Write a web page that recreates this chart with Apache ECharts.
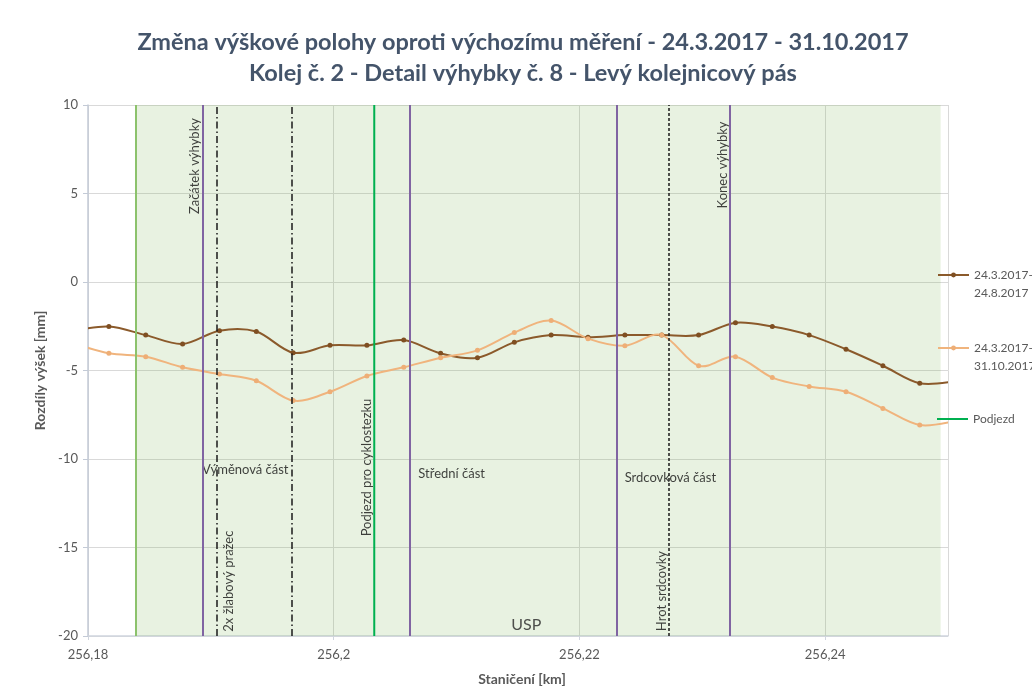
<!DOCTYPE html>
<html>
<head>
<meta charset="utf-8">
<script src="https://cdn.jsdelivr.net/npm/echarts@6/dist/echarts.min.js"></script>
<style>
html,body{margin:0;padding:0;background:#fff;}
#chart{width:1032px;height:700px;}
</style>
</head>
<body>
<div id="chart"></div>
<script>
// ---- data ----
const stations = [256.1787, 256.1817, 256.1847, 256.1877, 256.1907, 256.1937, 256.1967, 256.1997, 256.2027, 256.2057, 256.2087, 256.2117, 256.2147, 256.2177, 256.2207, 256.2237, 256.2267, 256.2297, 256.2327, 256.2357, 256.2387, 256.2417, 256.2447, 256.2477, 256.2507];
const diffAug = [-2.75, -2.52, -3.0, -3.5, -2.75, -2.8, -4.0, -3.58, -3.58, -3.28, -4.03, -4.28, -3.41, -3.0, -3.12, -3.0, -3.0, -3.0, -2.3, -2.52, -3.0, -3.8, -4.73, -5.72, -5.6];
const diffOct = [-3.45, -4.03, -4.22, -4.82, -5.2, -5.58, -6.7, -6.2, -5.31, -4.82, -4.28, -3.86, -2.86, -2.18, -3.2, -3.6, -3.0, -4.73, -4.22, -5.4, -5.9, -6.2, -7.14, -8.08, -7.85];
const seriesNames = ['24.3.2017-24.8.2017', '24.3.2017-31.10.2017', 'Podjezd'];

// key stations [km]
const shadeStart = 256.1839, shadeEnd = 256.2494;
const switchStart = 256.1893, middlePart = 256.2062, frogPart = 256.2230, switchEnd = 256.2322;
const troughSleepers = 256.1905, switchPartEnd = 256.1966;
const frogPoint = 256.2273;
const underpass = 256.2033;

const xTicks = {min: 256.18, max: 256.25, interval: 0.02};
const yTicks = {min: -20, max: 10, interval: 5};

// annotations (text, anchor in data coords, rotation)
const notes = [
  {t: 'Začátek výhybky', x: 256.18873, y: 6.55, r: 90},
  {t: '2x žlabový pražec', x: 256.19143, y: -16.9, r: 90},
  {t: 'Výměnová část', x: 256.19280, y: -10.62, r: 0},
  {t: 'Podjezd pro cyklostezku', x: 256.20269, y: -10.48, r: 90},
  {t: 'Střední část', x: 256.20960, y: -10.85, r: 0},
  {t: 'Srdcovková část', x: 256.22740, y: -11.07, r: 0},
  {t: 'Hrot srdcovky', x: 256.22672, y: -17.46, r: 90},
  {t: 'Konec výhybky', x: 256.23167, y: 6.61, r: 90},
  {t: 'USP', x: 256.21567, y: -19.35, r: 0, big: true}
];

const FONT = 'Lato';
const BROWN = '#8b5a2b', ORANGE = '#f0b47d';
const purple = {color: '#8064a2', width: 2, type: 'solid'};
const dashDot = {color: '#1a1a1a', width: 1.5, type: [7, 3, 1.5, 3]};

// Excel-like smoothed curve (Catmull-Rom bezier) drawn through the chart's own coordinate system
function smoothSeries(name, vals, color) {
  return {
    type: 'custom', name: name + ' curve', silent: true, clip: true, z: 2,
    data: stations.slice(0, -1).map((s, i) => [s, vals[i]]),
    renderItem: (params, api) => {
      const i = params.dataIndex, n = stations.length;
      const P = k => api.coord([stations[Math.max(0, Math.min(n - 1, k))], vals[Math.max(0, Math.min(n - 1, k))]]);
      const p0 = P(i - 1), p1 = P(i), p2 = P(i + 1), p3 = P(i + 2);
      return {
        type: 'bezierCurve',
        shape: {
          x1: p1[0], y1: p1[1], x2: p2[0], y2: p2[1],
          cpx1: p1[0] + (p2[0] - p0[0]) / 6, cpy1: p1[1] + (p2[1] - p0[1]) / 6,
          cpx2: p2[0] - (p3[0] - p1[0]) / 6, cpy2: p2[1] - (p3[1] - p1[1]) / 6
        },
        style: {stroke: color, lineWidth: 2, fill: null, lineCap: 'round'}
      };
    }
  };
}

const chart = echarts.init(document.getElementById('chart'), null, {renderer: 'canvas'});
const legendBase = {
  orient: 'vertical', left: 937, padding: 0, itemWidth: 31, itemHeight: 6, itemGap: 0,
  textStyle: {fontFamily: FONT, fontSize: 12, color: '#595959', lineHeight: 18},
  lineStyle: {opacity: 1},
  selectedMode: false
};
chart.setOption({
  animation: false,
  backgroundColor: '#fff',
  title: {
    text: 'Změna výškové polohy oproti výchozímu měření - 24.3.2017 - 31.10.2017\nKolej č. 2 - Detail výhybky č. 8 - Levý kolejnicový pás',
    left: 523, textAlign: 'center', top: 27, padding: 0,
    textStyle: {fontFamily: FONT, fontWeight: 'bold', fontSize: 23.5, color: '#44546a', lineHeight: 31}
  },
  legend: [
    Object.assign({}, legendBase, {top: 248, data: [seriesNames[0]], formatter: n => '\n' + n.replace('-', '-\n')}),
    Object.assign({}, legendBase, {top: 321, data: [seriesNames[1]], formatter: n => '\n' + n.replace('-', '-\n')}),
    Object.assign({}, legendBase, {top: 410, data: [{name: seriesNames[2], icon: 'rect'}], itemHeight: 2})
  ],
  grid: {left: 88, right: 84, top: 105, bottom: 64},
  xAxis: {
    type: 'value', min: xTicks.min, max: xTicks.max, interval: xTicks.interval,
    name: 'Staničení [km]', nameLocation: 'middle', nameGap: 36,
    nameTextStyle: {fontFamily: FONT, fontWeight: 'bold', fontSize: 14, color: '#595959', padding: [0, 0, 0, 8]},
    axisLine: {show: true, onZero: false, lineStyle: {color: '#d0d5de', width: 1.5}},
    axisTick: {show: true, length: 4, lineStyle: {color: '#d0d5de'}},
    axisLabel: {fontFamily: FONT, fontSize: 13, color: '#595959', margin: 12, showMaxLabel: false,
      formatter: v => String(+v.toFixed(4)).replace('.', ',')},
    splitLine: {show: true, lineStyle: {color: '#d9d9d9', width: 1}}
  },
  yAxis: {
    type: 'value', min: yTicks.min, max: yTicks.max, interval: yTicks.interval,
    name: 'Rozdíly výšek [mm]', nameLocation: 'middle', nameGap: 31,
    nameTextStyle: {fontFamily: FONT, fontWeight: 'bold', fontSize: 14, color: '#595959'},
    axisLine: {show: true, lineStyle: {color: '#c3cad6', width: 1.5}},
    axisTick: {show: true, length: 5, lineStyle: {color: '#c3cad6'}},
    axisLabel: {fontFamily: FONT, fontSize: 13, color: '#595959', margin: 10},
    splitLine: {show: true, lineStyle: {color: '#d9d9d9', width: 1}}
  },
  series: [
    {
      type: 'line', name: 'helpers', data: [], silent: true,
      markArea: {
        silent: true,
        itemStyle: {color: 'rgba(112,173,71,0.16)'},
        data: [[{xAxis: shadeStart}, {xAxis: shadeEnd}]]
      },
      markLine: {
        silent: true, symbol: ['none', 'none'], label: {show: false}, precision: 6,
        data: [
          {xAxis: shadeStart, lineStyle: {color: '#8cc26c', width: 2, type: 'solid'}},
          {xAxis: switchStart, lineStyle: purple},
          {xAxis: middlePart, lineStyle: purple},
          {xAxis: frogPart, lineStyle: purple},
          {xAxis: switchEnd, lineStyle: purple},
          {xAxis: troughSleepers, lineStyle: dashDot},
          {xAxis: switchPartEnd, lineStyle: dashDot},
          {xAxis: frogPoint, lineStyle: {color: '#1a1a1a', width: 1.5, type: [3, 2]}}
        ]
      }
    },
    {
      type: 'line', name: seriesNames[2], data: [[underpass, yTicks.min], [underpass, yTicks.max]],
      symbol: 'none', color: '#00b050', lineStyle: {width: 2, color: '#00b050'}, silent: true
    },
    smoothSeries(seriesNames[0], diffAug, BROWN),
    smoothSeries(seriesNames[1], diffOct, ORANGE),
    {
      type: 'line', name: seriesNames[0], z: 3,
      data: stations.map((s, i) => [s, diffAug[i]]),
      symbol: 'circle', symbolSize: 5, showSymbol: true,
      color: BROWN, itemStyle: {color: '#7f4f22'}, lineStyle: {width: 2, color: BROWN, opacity: 0}
    },
    {
      type: 'line', name: seriesNames[1], z: 3,
      data: stations.map((s, i) => [s, diffOct[i]]),
      symbol: 'circle', symbolSize: 5, showSymbol: true,
      color: ORANGE, itemStyle: {color: '#eeae76'}, lineStyle: {width: 2, color: ORANGE, opacity: 0}
    },
    {
      type: 'scatter', name: 'notes', silent: true, symbolSize: 0, z: 4,
      data: notes.map(n => ({
        value: [n.x, n.y],
        label: {
          show: true, formatter: n.t, position: 'inside', rotate: n.r,
          align: 'center', verticalAlign: 'middle',
          fontFamily: FONT, fontSize: n.big ? 16 : 13, color: n.big ? '#262626' : '#111'
        }
      }))
    }
  ]
});
</script>
</body>
</html>
